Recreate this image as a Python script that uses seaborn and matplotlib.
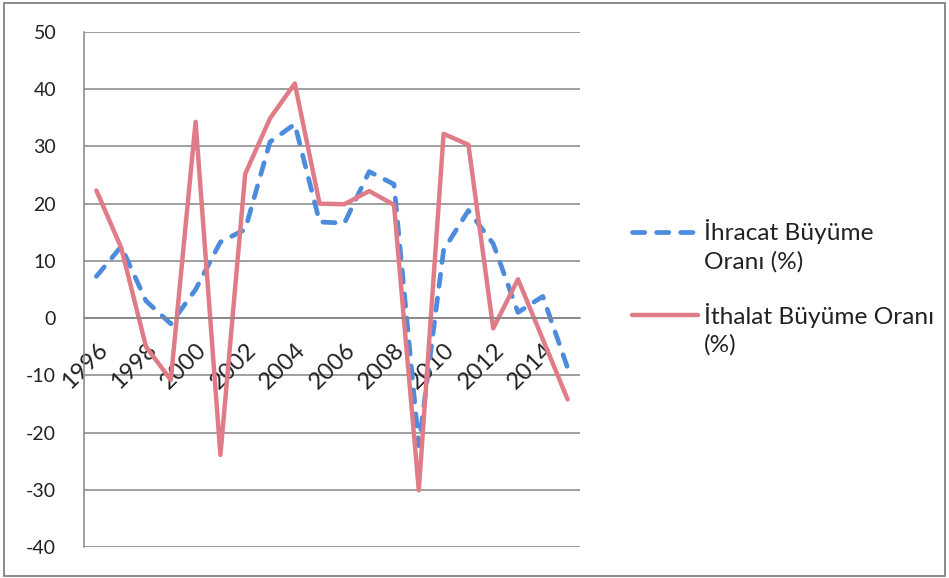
import numpy as np
import pandas as pd
import seaborn as sns
import matplotlib.pyplot as plt
import matplotlib.transforms as mtransforms
from matplotlib.lines import Line2D
from matplotlib.patches import Rectangle

years = list(range(1996, 2016))
ihracat = [7.3, 12.5, 3.0, -1.0, 5.0, 13.3, 15.5, 30.8, 33.9, 16.8,
           16.6, 25.6, 23.4, -22.3, 11.9, 18.8, 13.0, 1.0, 3.8, -8.7]
ithalat = [22.3, 12.3, -5.0, -10.8, 34.3, -23.9, 25.2, 34.9, 41.0, 20.0,
           19.9, 22.2, 19.8, -30.1, 32.2, 30.3, -1.8, 6.8, -3.7, -14.2]
yticks = list(range(-40, 60, 10))
series_labels = ['İhracat Büyüme\nOranı (%)', 'İthalat Büyüme Oranı\n(%)']

df = pd.DataFrame({'pos': np.arange(len(years)), 'year': years,
                   'ihracat': ihracat, 'ithalat': ithalat})

sns.set_style('white')
plt.rcParams['font.family'] = ['Lato', 'DejaVu Sans']

blue = '#4d8bdc'
red = '#e07c87'
grid_c = '#858585'
txt_c = '#222222'
blue_dash = [2.6, 2.5]

fig = plt.figure(figsize=(9.49, 5.78), dpi=100)
ax = fig.add_axes([84 / 949, 1 - 547 / 578, 496 / 949, 515 / 578])

sns.lineplot(data=df, x='pos', y='ihracat', ax=ax, color=blue, linewidth=3.4)
sns.lineplot(data=df, x='pos', y='ithalat', ax=ax, color=red, linewidth=3.2)
l_blue, l_red = ax.get_lines()[0], ax.get_lines()[1]
l_blue.set_dashes(blue_dash)
l_blue.set_dash_capstyle('round')

ax.set_xlim(-0.5, len(years) - 0.5)
ax.set_ylim(-40, 50)
ax.set_yticks(yticks)
ax.set_yticklabels([str(v) for v in yticks], fontsize=14, color=txt_c)
for v in yticks:
    ax.axhline(v, color=grid_c, linewidth=1.1, zorder=0)

# category axis crossing at zero
ax.spines['bottom'].set_position(('data', 0))
for s in ['bottom', 'left']:
    ax.spines[s].set_color(grid_c)
    ax.spines[s].set_linewidth(1.1)
ax.spines['top'].set_visible(False)
ax.spines['right'].set_visible(False)

ax.set_xticks(np.arange(-0.5, len(years)), minor=True)
ax.set_xticks(df['pos'][::2])
ax.set_xticklabels([str(y) for y in years[::2]], rotation=45, ha='right',
                   va='top', rotation_mode='anchor', fontsize=17, color=txt_c)
shift = mtransforms.ScaledTranslation(-4 / 100, 0, fig.dpi_scale_trans)
for lbl in ax.get_xticklabels():
    lbl.set_transform(lbl.get_transform() + shift)
ax.tick_params(axis='x', which='minor', direction='out', length=6,
               color=grid_c, width=1.1)
ax.tick_params(axis='x', which='major', length=0, pad=15)
ax.tick_params(axis='y', direction='out', length=6, color=grid_c, width=1.1, pad=14)
ax.set_xlabel('')
ax.set_ylabel('')

# legend, handle beside the first line of each label
leg_rows = [(1 - 232 / 578, l_blue), (1 - 315 / 578, l_red)]
for (yy, src), lab in zip(leg_rows, series_labels):
    h = Line2D([632 / 949, 698 / 949], [yy, yy], transform=fig.transFigure,
               color=src.get_color(), linewidth=src.get_linewidth())
    if src is l_blue:
        h.set_dashes(blue_dash)
        h.set_dash_capstyle('round')
    fig.add_artist(h)
    fig.text(704 / 949, yy + 12.5 / 578, lab, fontsize=17.6, color=txt_c,
             va='top', ha='left', linespacing=1.4)

fig.add_artist(Rectangle((0.004, 0.004), 0.992, 0.99, transform=fig.transFigure,
                         fill=False, edgecolor='#777777', linewidth=1.2))

fig.savefig('out.png', dpi=100)
